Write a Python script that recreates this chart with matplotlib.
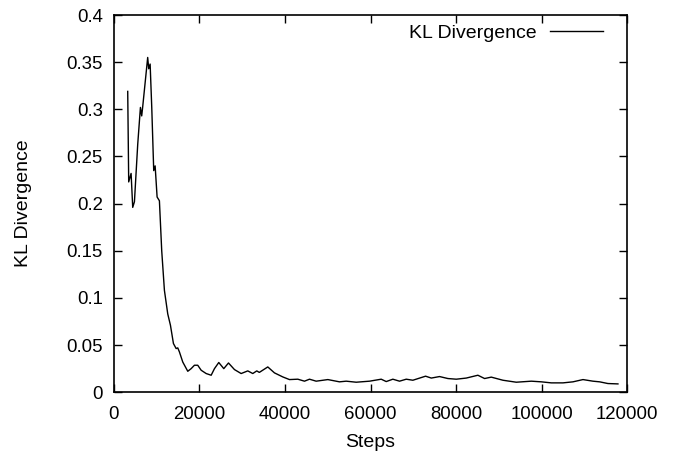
import numpy as np
import matplotlib
matplotlib.use("Agg")
import matplotlib.pyplot as plt

plt.rcParams['font.family'] = ['Liberation Sans', 'DejaVu Sans']

# ---------- data ----------
steps = [3230, 3460, 4020, 4400, 4800, 5570, 6200, 6500, 6740, 7900, 8140, 8470,
         8850, 9310, 9640, 10100, 10640, 11180, 11810, 12590, 13220, 13920, 14550,
         14930, 15320, 16100, 17270, 18060, 18830, 19600, 20400, 21570, 22740,
         23510, 24520, 25690, 26790, 28190, 29750, 31300, 32470, 33400, 34000,
         35980, 37540, 39490, 41050, 43000, 44560, 45730, 47290, 50020, 52750,
         54310, 56650, 59770, 62500, 63670, 65220, 66780, 68350, 69900, 72870,
         74200, 76140, 78090, 80050, 82390, 85100, 86670, 88230, 90950, 94080,
         97600, 99930, 102270, 104990, 107330, 109670, 112000, 113570, 115500, 117850]
kl = [0.319, 0.223, 0.232, 0.196, 0.202, 0.263, 0.302, 0.293, 0.303, 0.355, 0.343, 0.348,
      0.302, 0.235, 0.240, 0.207, 0.203, 0.150, 0.108, 0.083, 0.071, 0.0516, 0.0463,
      0.047, 0.0427, 0.032, 0.0222, 0.025, 0.0286, 0.0286, 0.0233, 0.0198, 0.018,
      0.025, 0.0315, 0.025, 0.031, 0.024, 0.0198, 0.0226, 0.0198, 0.0226, 0.021,
      0.0268, 0.0205, 0.0162, 0.0134, 0.0138, 0.0117, 0.0138, 0.0117, 0.0134, 0.011,
      0.0117, 0.0106, 0.0117, 0.0138, 0.0113, 0.0138, 0.0117, 0.0138, 0.0127, 0.017,
      0.015, 0.0166, 0.0145, 0.0138, 0.015, 0.018, 0.0145, 0.016, 0.0127, 0.0106,
      0.0117, 0.011, 0.0099, 0.0099, 0.011, 0.0134, 0.0117, 0.011, 0.0092, 0.0088]

xticks = [0, 20000, 40000, 60000, 80000, 100000, 120000]
yticks = [0, 0.05, 0.1, 0.15, 0.2, 0.25, 0.3, 0.35, 0.4]
ytick_labels = ['0', '0.05', '0.1', '0.15', '0.2', '0.25', '0.3', '0.35', '0.4']

fig = plt.figure(figsize=(6.78, 4.55), dpi=100)
ax = fig.add_axes([0.168, 0.138, 0.757, 0.829])

ax.plot(steps, kl, color='black', linewidth=1.0, label='KL Divergence')

ax.set_xlim(0, 120000)
ax.set_ylim(0, 0.4)
ax.set_xticks(xticks)
ax.set_xticklabels([str(t) for t in xticks])
ax.set_yticks(yticks)
ax.set_yticklabels(ytick_labels)
ax.tick_params(direction='in', length=6, width=1, top=True, right=True,
               labelsize=13.4)
ax.tick_params(axis='y', pad=8)
ax.tick_params(axis='x', pad=10)
for s in ax.spines.values():
    s.set_linewidth(1.2)

ax.set_xlabel('Steps', fontsize=14, labelpad=8)
ax.set_ylabel('KL Divergence', fontsize=14)
ax.yaxis.set_label_coords(-0.160, 0.5)

ax.legend(loc='upper right', bbox_to_anchor=(0.953, 0.976), frameon=False,
          markerfirst=False, fontsize=14, handlelength=2.73, handletextpad=0.67,
          borderaxespad=0, borderpad=0)

fig.savefig('out.png', dpi=100)
